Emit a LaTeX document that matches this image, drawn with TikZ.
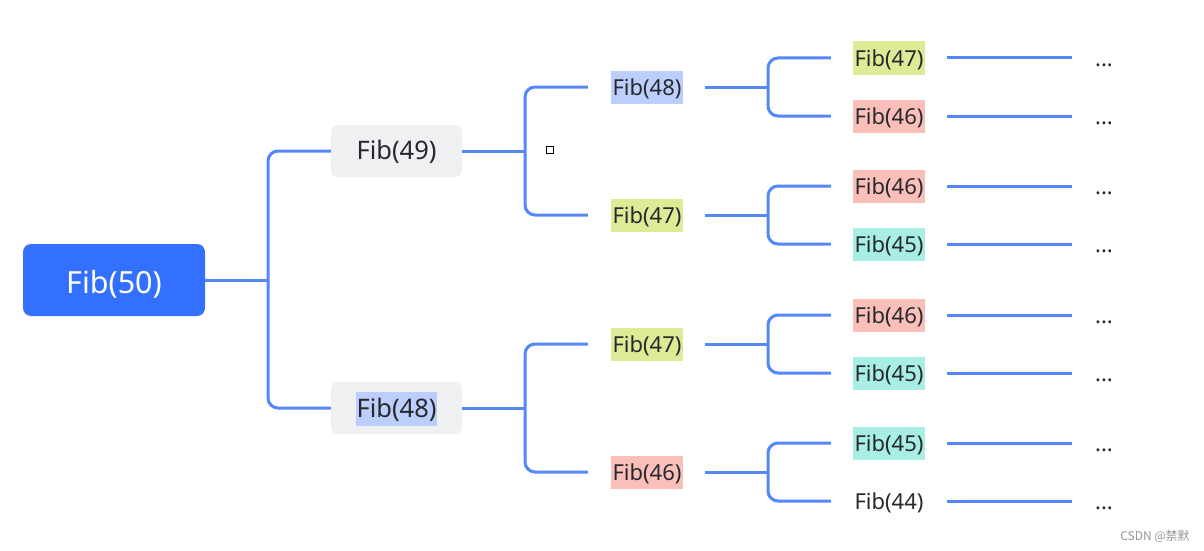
\documentclass[tikz,border=0pt]{standalone}
\usepackage{fontspec}
\setmainfont{Noto Sans}
\newfontfamily\cjk{Noto Sans CJK SC}
\definecolor{linkc}{RGB}{84,135,250}
\definecolor{rootc}{RGB}{51,112,255}
\definecolor{grayc}{RGB}{239,240,242}
\definecolor{txtc}{RGB}{38,40,44}
\definecolor{hlblue}{RGB}{188,207,252}
\definecolor{hlyel}{RGB}{221,235,150}
\definecolor{hlred}{RGB}{251,191,186}
\definecolor{hlcyan}{RGB}{168,238,228}
\begin{document}
\begin{tikzpicture}[x=1pt,y=-1pt,
  link/.style={draw=linkc, line width=3pt},
  fork/.style={link, rounded corners=10pt},
  txt/.style={text=txtc, inner xsep=1pt, inner ysep=0pt},
  lvtwo/.style={txt, font=\fontsize{22}{26}\selectfont, text height=22.4pt, text depth=5pt,
    minimum height=33pt, minimum width=72pt},
  lvone/.style={txt, font=\fontsize{25.5}{30}\selectfont, text height=23.4pt, text depth=6pt},
  rootbox/.style={fill=rootc, rounded corners=8pt, minimum width=182pt, minimum height=72pt,
    text=white, font=\fontsize{30.5}{36}\selectfont, inner sep=0pt, text height=33.6pt, text depth=7pt},
  graybox/.style={fill=grayc, rounded corners=7pt, minimum width=131pt, minimum height=52pt, inner sep=0pt},
  dotsnode/.style={txt, inner xsep=0pt, font=\fontsize{22}{26}\selectfont, text height=22.4pt, text depth=5pt},
]
\useasboundingbox (0,0) rectangle (1204,551);

% root
\node[rootbox] (f50) at (114,280) {Fib(50)};

% level 1
\node[graybox] (b49) at (396.5,151) {};
\node[lvone] (f49) at (396.5,151) {Fib(49)};
\node[graybox] (b48) at (396.5,408) {};
\node[lvone, fill=hlblue, minimum height=34pt, minimum width=81pt] (f48) at (396.5,409) {Fib(48)};

% level 2
\node[lvtwo, fill=hlblue] (a1) at (647,87) {Fib(48)};
\node[lvtwo, fill=hlyel] (a2) at (647,215) {Fib(47)};
\node[lvtwo, fill=hlyel] (a3) at (647,344) {Fib(47)};
\node[lvtwo, fill=hlred] (a4) at (647,472) {Fib(46)};

% level 3
\node[lvtwo, fill=hlyel] (c1) at (889,58) {Fib(47)};
\node[lvtwo, fill=hlred] (c2) at (889,116) {Fib(46)};
\node[lvtwo, fill=hlred] (c3) at (889,186) {Fib(46)};
\node[lvtwo, fill=hlcyan] (c4) at (889,244) {Fib(45)};
\node[lvtwo, fill=hlred] (c5) at (889,315) {Fib(46)};
\node[lvtwo, fill=hlcyan] (c6) at (889,373) {Fib(45)};
\node[lvtwo, fill=hlcyan] (c7) at (889,443) {Fib(45)};
\node[lvtwo] (c8) at (889,501) {Fib(44)};

% dots
\foreach \i/\y in {1/58,2/116,3/186,4/244,5/315,6/373,7/443,8/501}{
  \node[dotsnode] (d\i) at (1104,\y) {...};
}

% junctions
\coordinate (j0) at (268,280);
\coordinate (j1) at (525,151);
\coordinate (j2) at (525,408);
\coordinate (k1) at (768,87);
\coordinate (k2) at (768,215);
\coordinate (k3) at (768,344);
\coordinate (k4) at (768,472);

% connectors root -> level 1
\draw[link] (f50.east) -- (j0);
\draw[fork] (b49.west) -| (j0) |- (b48.west);

% level 1 -> level 2
\draw[link] (b49.east) -- (j1);
\draw[fork, shorten <=23pt, shorten >=23pt] (a1.west) -| (j1) |- (a2.west);
\draw[link] (b48.east) -- (j2);
\draw[fork, shorten <=23pt, shorten >=23pt] (a3.west) -| (j2) |- (a4.west);

% level 2 -> level 3
\foreach \a/\k/\u/\v in {a1/k1/c1/c2, a2/k2/c3/c4, a3/k3/c5/c6, a4/k4/c7/c8}{
  \draw[link, shorten <=22pt] (\a.east) -- (\k);
  \draw[fork, shorten <=22pt, shorten >=22pt] (\u.west) -| (\k) |- (\v.west);
}

% leaves -> dots
\foreach \i in {1,...,8}{
  \draw[link, shorten <=22pt, shorten >=23pt] (c\i.east) -- (d\i.west);
}

% small square
\node[draw=black, fill=white, line width=1pt, minimum size=7pt, inner sep=0pt] (sq) at (550,150) {};

% watermark
\node[font=\cjk\fontsize{12}{14}\selectfont, text={rgb,255:red,150;green,150;blue,150}] (wm) at (1155,536) {CSDN @禁默};
\end{tikzpicture}
\end{document}
